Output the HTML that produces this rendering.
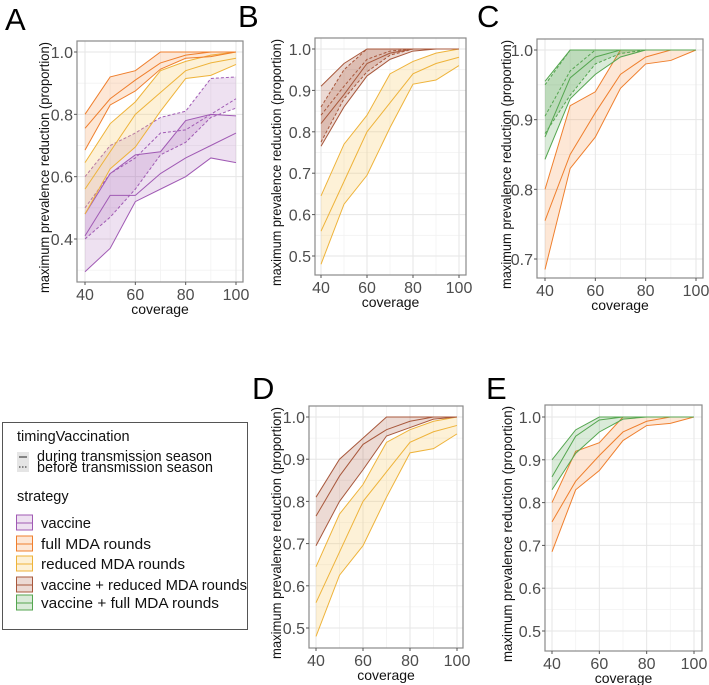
<!DOCTYPE html>
<html><head><meta charset="utf-8">
<style>
html,body{margin:0;padding:0;background:#fff;}
body{width:709px;height:685px;position:relative;overflow:hidden;font-family:"Liberation Sans",sans-serif;}
svg{position:absolute;left:0;top:0;}
</style></head>
<body>
<svg id="chart" width="709" height="685" xmlns="http://www.w3.org/2000/svg">
  <g>
    <rect x="2.5" y="422.5" width="245" height="207" fill="#fff" stroke="#555" stroke-width="1"/>
    <text x="17" y="441" font-size="14.5" fill="#111">timingVaccination</text>
    <rect x="17" y="452" width="12" height="20" fill="#e5e5e5"/>
    <line x1="19" y1="457" x2="27" y2="457" stroke="#222" stroke-width="1"/>
    <line x1="19" y1="467" x2="27" y2="467" stroke="#222" stroke-width="1" stroke-dasharray="1.5,1.5"/>
    <text x="37" y="461" font-size="14.5" fill="#111" textLength="175" lengthAdjust="spacingAndGlyphs">during transmission season</text>
    <text x="37" y="472" font-size="14.5" fill="#111" textLength="176" lengthAdjust="spacingAndGlyphs">before transmission season</text>
    <text x="17" y="501" font-size="14.5" fill="#111">strategy</text>
    <g id="stratLegend"></g>
  </g>
  <g id="panels"></g>
</svg>
<script>
// ---- data ----
const coverage = [40, 50, 60, 70, 80, 90, 100];
const fullMid = [0.755, 0.85, 0.91, 0.965, 0.99, 1.0, 1.0];
const fullHi  = [0.80, 0.92, 0.94, 1.0, 1.0, 1.0, 1.0];
const fullLo  = [0.685, 0.83, 0.875, 0.945, 0.98, 0.985, 1.0];
const redMid = [0.56, 0.68, 0.80, 0.87, 0.94, 0.965, 0.98];
const redHi  = [0.645, 0.77, 0.84, 0.94, 0.97, 0.99, 1.0];
const redLo  = [0.48, 0.625, 0.695, 0.81, 0.915, 0.925, 0.96];
const vacDurMid = [0.41, 0.54, 0.54, 0.61, 0.66, 0.70, 0.74];
const vacDurHi  = [0.48, 0.61, 0.67, 0.68, 0.78, 0.80, 0.795];
const vacDurLo  = [0.295, 0.37, 0.52, 0.56, 0.60, 0.66, 0.645];
const vacBefMid = [0.50, 0.61, 0.66, 0.74, 0.75, 0.80, 0.85];
const vacBefHi  = [0.60, 0.70, 0.74, 0.79, 0.81, 0.915, 0.92];
const vacBefLo  = [0.40, 0.47, 0.56, 0.67, 0.71, 0.79, 0.82];
const vrDurMid = [0.82, 0.89, 0.965, 0.99, 1.0, 1.0, 1.0];
const vrDurHi  = [0.91, 0.965, 1.0, 1.0, 1.0, 1.0, 1.0];
const vrDurLo  = [0.765, 0.86, 0.935, 0.975, 0.995, 1.0, 1.0];
const vrBefMid = [0.84, 0.91, 0.975, 0.995, 1.0, 1.0, 1.0];
const vrBefHi  = [0.86, 0.95, 1.0, 1.0, 1.0, 1.0, 1.0];
const vrBefLo  = [0.775, 0.88, 0.945, 0.985, 1.0, 1.0, 1.0];
const vfDurMid = [0.875, 0.96, 0.99, 1.0, 1.0, 1.0, 1.0];
const vfDurHi  = [0.955, 1.0, 1.0, 1.0, 1.0, 1.0, 1.0];
const vfDurLo  = [0.843, 0.93, 0.965, 0.99, 1.0, 1.0, 1.0];
const vfBefMid = [0.905, 0.97, 1.0, 1.0, 1.0, 1.0, 1.0];
const vfBefHi  = [0.95, 1.0, 1.0, 1.0, 1.0, 1.0, 1.0];
const vfBefLo  = [0.88, 0.935, 0.98, 0.995, 1.0, 1.0, 1.0];
const vrDMid = [0.765, 0.86, 0.935, 0.97, 0.99, 1.0, 1.0];
const vrDHi  = [0.81, 0.90, 0.95, 1.0, 1.0, 1.0, 1.0];
const vrDLo  = [0.695, 0.80, 0.875, 0.955, 0.975, 0.995, 1.0];
const vfEMid = [0.86, 0.955, 0.993, 1.0, 1.0, 1.0, 1.0];
const vfEHi  = [0.90, 0.97, 1.0, 1.0, 1.0, 1.0, 1.0];
const vfELo  = [0.83, 0.915, 0.965, 0.995, 1.0, 1.0, 1.0];
const xTicks = [40, 60, 80, 100];
const xMinor = [50, 70, 90];
const yTicksA = [0.4, 0.6, 0.8, 1.0];
const yMinorA = [0.3, 0.5, 0.7, 0.9];
const yTicksB = [0.5, 0.6, 0.7, 0.8, 0.9, 1.0];
const yMinorB = [0.55, 0.65, 0.75, 0.85, 0.95];
const yTicksC = [0.7, 0.8, 0.9, 1.0];
const yMinorC = [0.75, 0.85, 0.95];
const strategyNames = ["vaccine", "full MDA rounds", "reduced MDA rounds", "vaccine + reduced MDA rounds", "vaccine + full MDA rounds"];

const COL = {
  vac: {line: "#a05ab4", fill: "rgba(160,90,180,0.18)"},
  full: {line: "#ef7f2d", fill: "rgba(245,145,70,0.22)"},
  red: {line: "#eeb33a", fill: "rgba(248,205,110,0.28)"},
  vr: {line: "#a8583c", fill: "rgba(168,88,60,0.22)"},
  vf: {line: "#55a650", fill: "rgba(85,166,80,0.22)"}
};

const NS = "http://www.w3.org/2000/svg";
function mk(tag, attrs, parent) {
  const e = document.createElementNS(NS, tag);
  for (const k in attrs) e.setAttribute(k, attrs[k]);
  parent.appendChild(e);
  return e;
}

const sl = document.getElementById("stratLegend");
const legCols = [COL.vac, COL.full, COL.red, COL.vr, COL.vf];
const legY = [523, 544, 564, 585, 603];
const legLen = [50, 110, 144, 206, 178];
strategyNames.forEach((n, i) => {
  const r = mk("rect", {x: 16.5, y: legY[i] - 8, width: 16, height: 15, fill: legCols[i].fill, stroke: legCols[i].line, "stroke-width": 1}, sl);
  
  
  const l = mk("line", {x1: 17, x2: 32, y1: legY[i], y2: legY[i], stroke: legCols[i].line, "stroke-width": 1}, sl);
  
  
  const t = mk("text", {x: 41, y: legY[i] + 5, "font-size": 15, fill: "#111", textLength: legLen[i], lengthAdjust: "spacingAndGlyphs"}, sl);
  
  
  t.textContent = n;
});

const panels = [
  {id: "A", lx: 5, ly: 30, box: [77, 41, 243, 282], x40: 85, x100: 236, yv: [1.0, 52, 0.4, 239], yt: yTicksA, ym: yMinorA, ytx: 45,
   series: [
     [COL.vac, vacBefLo, vacBefMid, vacBefHi, true],
     [COL.vac, vacDurLo, vacDurMid, vacDurHi, false],
     [COL.red, redLo, redMid, redHi, false],
     [COL.full, fullLo, fullMid, fullHi, false]]},
  {id: "B", lx: 238, ly: 27, box: [315, 38, 466, 275], x40: 321, x100: 459, yv: [1.0, 49, 0.5, 256], yt: yTicksB, ym: yMinorB, ytx: 277,
   series: [
     [COL.red, redLo, redMid, redHi, false],
     [COL.vr, vrBefLo, vrBefMid, vrBefHi, true],
     [COL.vr, vrDurLo, vrDurMid, vrDurHi, false]]},
  {id: "C", lx: 477, ly: 27, box: [537, 39, 703, 278], x40: 545, x100: 696, yv: [1.0, 50, 0.7, 259], yt: yTicksC, ym: yMinorC, ytx: 507,
   series: [
     [COL.full, fullLo, fullMid, fullHi, false],
     [COL.vf, vfBefLo, vfBefMid, vfBefHi, true],
     [COL.vf, vfDurLo, vfDurMid, vfDurHi, false]]},
  {id: "D", lx: 252, ly: 399, box: [309, 406, 463, 648], x40: 316, x100: 457, yv: [1.0, 417, 0.5, 628], yt: yTicksB, ym: yMinorB, ytx: 277,
   series: [
     [COL.red, redLo, redMid, redHi, false],
     [COL.vr, vrDLo, vrDMid, vrDHi, false]]},
  {id: "E", lx: 486, ly: 399, box: [545, 405, 702, 651], x40: 552, x100: 694, yv: [1.0, 417, 0.5, 631], yt: yTicksB, ym: yMinorB, ytx: 508,
   series: [
     [COL.full, fullLo, fullMid, fullHi, false],
     [COL.vf, vfELo, vfEMid, vfEHi, false]]}
];

const root = document.getElementById("panels");
panels.forEach(p => {
  const g = mk("g", {}, root);
  
  
  const xs = v => p.x40 + (v - 40) * (p.x100 - p.x40) / 60;
  const ys = v => p.yv[1] + (p.yv[0] - v) * (p.yv[3] - p.yv[1]) / (p.yv[0] - p.yv[2]);
  const [L, T, R, B] = p.box;

  const lab = mk("text", {x: p.lx, y: p.ly, "font-size": 31, fill: "#000"}, g);
  
  
  lab.textContent = p.id;

  p.ym.forEach(v => { const y = ys(v); if (y > T && y < B) { const l = mk("line", {x1: L, x2: R, y1: y, y2: y, stroke: "#f2f2f2", "stroke-width": 0.8}, g);   } });
  xMinor.forEach(v => { const x = xs(v); const l = mk("line", {x1: x, x2: x, y1: T, y2: B, stroke: "#f2f2f2", "stroke-width": 0.8}, g);   });
  p.yt.forEach(v => { const y = ys(v); const l = mk("line", {x1: L, x2: R, y1: y, y2: y, stroke: "#e6e6e6", "stroke-width": 1}, g);   });
  xTicks.forEach(v => { const x = xs(v); const l = mk("line", {x1: x, x2: x, y1: T, y2: B, stroke: "#e6e6e6", "stroke-width": 1}, g);   });

  p.series.forEach((s, si) => {
    const [c, lo, mid, hi, dashed] = s;
    const pts = coverage.map((v, i) => xs(v) + "," + ys(hi[i])).concat(coverage.slice().reverse().map((v, j) => { const i = coverage.length - 1 - j; return xs(v) + "," + ys(lo[i]); }));
    const poly = mk("polygon", {points: pts.join(" "), fill: c.fill, stroke: "none"}, g);
    
    
    [lo, mid, hi].forEach((arr, k) => {
      const pl = mk("polyline", {points: coverage.map((v, i) => xs(v) + "," + ys(arr[i])).join(" "), fill: "none", stroke: c.line, "stroke-width": 1, "stroke-dasharray": dashed ? "3,2" : "none"}, g);
      
      
    });
  });

  const bd = mk("rect", {x: L, y: T, width: R - L, height: B - T, fill: "none", stroke: "#8a8a8a", "stroke-width": 1.2}, g);
  
  

  p.yt.forEach(v => {
    const y = ys(v);
    const tk = mk("line", {x1: L - 3, x2: L, y1: y, y2: y, stroke: "#555", "stroke-width": 1}, g);
    
    
    const t = mk("text", {x: L - 4, y: y + 6, "font-size": 16, fill: "#4d4d4d", "text-anchor": "end"}, g);
    
    
    t.textContent = v.toFixed(1);
  });
  xTicks.forEach(v => {
    const x = xs(v);
    const tk = mk("line", {x1: x, x2: x, y1: B, y2: B + 3, stroke: "#555", "stroke-width": 1}, g);
    
    
    const t = mk("text", {x: x, y: B + 18, "font-size": 16, fill: "#4d4d4d", "text-anchor": "middle"}, g);
    
    
    t.textContent = v;
  });
  const xt = mk("text", {x: (L + R) / 2, y: B + 32, "font-size": 14, fill: "#111", "text-anchor": "middle"}, g);
  
  
  xt.textContent = "coverage";
  const cy = (T + B) / 2 + 6;
  const yt = mk("text", {x: p.ytx, y: cy, "font-size": 14, fill: "#111", "text-anchor": "middle", transform: "rotate(-90 " + p.ytx + " " + cy + ")", dy: "4", textLength: (B - T) + 10, lengthAdjust: "spacingAndGlyphs"}, g);
  
  
  yt.textContent = "maximum prevalence reduction (proportion)";
});
</script>
</body></html>
